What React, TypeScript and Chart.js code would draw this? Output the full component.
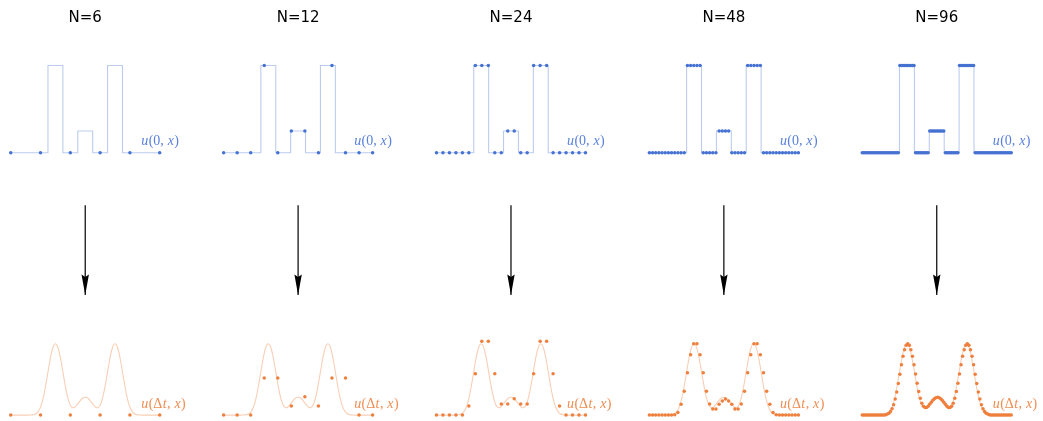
import React, { useEffect, useRef } from "react";
import { Chart, registerables } from "chart.js";

Chart.register(...registerables);

// ---------- data ----------
const titles = ["N=6", "N=12", "N=24", "N=48", "N=96"];

// initial condition u(0,x): fine step profile
const stepX = [0, 0.25, 0.25, 0.35, 0.35, 0.45, 0.45, 0.55, 0.55, 0.65, 0.65, 0.75, 0.75, 1];
const stepY = [0, 0, 1, 1, 0, 0, 0.25, 0.25, 0, 0, 1, 1, 0, 0];

// exact smoothed solution u(dt,x)
const curveX = [
  0, 0.05, 0.1, 0.12,
  0.13, 0.14, 0.15, 0.16, 0.17, 0.18, 0.19, 0.2, 0.21, 0.22, 0.23, 0.24, 0.25, 0.26, 0.27, 0.28, 0.29,
  0.3, 0.31, 0.32, 0.33, 0.34, 0.35, 0.36, 0.37, 0.38, 0.39, 0.4, 0.41, 0.42, 0.43, 0.44, 0.45, 0.46,
  0.47, 0.48, 0.49, 0.5, 0.51, 0.52, 0.53, 0.54, 0.55, 0.56, 0.57, 0.58, 0.59, 0.6, 0.61, 0.62, 0.63,
  0.64, 0.65, 0.66, 0.67, 0.68, 0.69, 0.7, 0.71, 0.72, 0.73, 0.74, 0.75, 0.76, 0.77, 0.78, 0.79, 0.8,
  0.81, 0.82, 0.83, 0.84, 0.85, 0.86, 0.87,
  0.88, 0.9, 0.95, 1,
];
const curveY = [
  0, 0, 0, 0,
  0.001, 0.002, 0.004, 0.008, 0.016, 0.031, 0.055, 0.091, 0.143, 0.212, 0.296, 0.393, 0.496, 0.597, 0.687, 0.757, 0.802,
  0.818, 0.802, 0.757, 0.687, 0.597, 0.497, 0.395, 0.3, 0.22, 0.157, 0.114, 0.091, 0.084, 0.09, 0.107, 0.128, 0.151,
  0.172, 0.19, 0.201, 0.205, 0.201, 0.19, 0.172, 0.151, 0.128, 0.107, 0.09, 0.084, 0.091, 0.114, 0.157, 0.22, 0.3,
  0.395, 0.497, 0.597, 0.687, 0.757, 0.802, 0.818, 0.802, 0.757, 0.687, 0.597, 0.496, 0.393, 0.296, 0.212, 0.143, 0.091,
  0.055, 0.031, 0.016, 0.008, 0.004, 0.002, 0.001,
  0, 0, 0, 0,
];

// sampled initial values
const initial6 = [0, 0, 0, 0, 0, 0];
const initial12 = [0, 0, 0, 1, 0, 0.25, 0.25, 0, 1, 0, 0, 0];
const initial24 = [0, 0, 0, 0, 0, 0, 1, 1, 1, 0, 0, 0.25, 0.25, 0, 0, 1, 1, 1, 0, 0, 0, 0, 0, 0];
const initial48 = [
  0, 0, 0, 0, 0, 0, 0, 0, 0, 0, 0, 0,
  1, 1, 1, 1, 1,
  0, 0, 0, 0, 0,
  0.25, 0.25, 0.25, 0.25,
  0, 0, 0, 0, 0,
  1, 1, 1, 1, 1,
  0, 0, 0, 0, 0, 0, 0, 0, 0, 0, 0, 0,
];
const initial96 = [
  0, 0, 0, 0, 0, 0, 0, 0, 0, 0, 0, 0, 0, 0, 0, 0, 0, 0, 0, 0, 0, 0, 0, 0,
  1, 1, 1, 1, 1, 1, 1, 1, 1, 1,
  0, 0, 0, 0, 0, 0, 0, 0, 0,
  0.25, 0.25, 0.25, 0.25, 0.25, 0.25, 0.25, 0.25, 0.25, 0.25,
  0, 0, 0, 0, 0, 0, 0, 0, 0,
  1, 1, 1, 1, 1, 1, 1, 1, 1, 1,
  0, 0, 0, 0, 0, 0, 0, 0, 0, 0, 0, 0, 0, 0, 0, 0, 0, 0, 0, 0, 0, 0, 0, 0,
];

// numerical values after one step
const evolved6 = [0, 0, 0, 0, 0, 0];
const evolved12 = [0, 0, 0, 0.426, 0.426, 0.103, 0.21, 0.103, 0.426, 0.426, 0, 0];
const evolved24 = [
  0, 0, 0, 0, 0, 0.103, 0.475, 0.847, 0.847, 0.475, 0.126, 0.126, 0.188, 0.126, 0.126, 0.475, 0.847,
  0.847, 0.475, 0.103, 0, 0, 0, 0,
];
const evolved48 = [
  0, 0, 0, 0, 0, 0, 0, 0,
  0.005, 0.03, 0.123, 0.274, 0.486, 0.691, 0.816, 0.816, 0.691, 0.486, 0.274, 0.126, 0.069, 0.069, 0.123,
  0.16, 0.183, 0.16, 0.123, 0.069, 0.069, 0.126, 0.274, 0.486, 0.691, 0.816, 0.816, 0.691, 0.486, 0.274,
  0.123, 0.03, 0.005,
  0, 0, 0, 0, 0, 0, 0,
];
const evolved96 = [
  0, 0, 0, 0, 0, 0, 0, 0, 0, 0, 0, 0, 0,
  0.001, 0.002, 0.005, 0.011, 0.022, 0.041, 0.072, 0.119, 0.183, 0.265, 0.362, 0.469, 0.576, 0.673, 0.749,
  0.801, 0.818, 0.8, 0.749, 0.673, 0.576, 0.47, 0.365, 0.27, 0.194, 0.137, 0.102, 0.087, 0.088, 0.102,
  0.123, 0.146, 0.169, 0.188, 0.2, 0.205,
  0.2, 0.188, 0.169, 0.146, 0.123, 0.102, 0.088, 0.087, 0.102, 0.137, 0.194, 0.27, 0.365, 0.47, 0.576,
  0.673, 0.749, 0.8, 0.818, 0.801, 0.749, 0.673, 0.576, 0.469, 0.362, 0.265, 0.183, 0.119, 0.072, 0.041,
  0.022, 0.011, 0.005, 0.002, 0.001,
  0, 0, 0, 0, 0, 0, 0, 0, 0, 0, 0, 0,
];

const initialSets = [initial6, initial12, initial24, initial48, initial96];
const evolvedSets = [evolved6, evolved12, evolved24, evolved48, evolved96];

// arrow between rows (in upper-row value units)
const arrowX = [0.5, 0.5];
const arrowY = [-0.6, -1.63];

// ---------- layout / style ----------
const W = 1043;
const H = 421;
const COL0 = 9;
const COL_STEP = 213.6;
const SPAN = 149.5;
const UNIT = 88;
const TOP_BASE = 152.3;
const BOT_BASE = 416.8;

const TITLE_Y = 1.503; // value on top axis for title baseline
const LABEL_X = 0.876;
const LABEL_TOP_Y = 0.09;
const LABEL_BOT_Y = 0.077;

const BLUE = "#4672d2";
const BLUE_LINE = "rgba(70,114,210,0.36)";
const BLUE_TEXT = "#5a80dc";
const ORANGE = "#ef7f3c";
const ORANGE_LINE = "rgba(239,127,60,0.38)";
const ORANGE_TEXT = "#f08d52";

type Seg = [string, "i" | "r"];
const labelTop: Seg[] = [["u", "i"], ["(0, ", "r"], ["x", "i"], [")", "r"]];
const labelBot: Seg[] = [["u", "i"], ["(\u0394", "r"], ["t", "i"], [", ", "r"], ["x", "i"], [")", "r"]];

function drawMath(ctx: CanvasRenderingContext2D, segs: Seg[], x: number, y: number, color: string) {
  ctx.fillStyle = color;
  ctx.textAlign = "left";
  ctx.textBaseline = "alphabetic";
  let cx = x;
  for (const [t, s] of segs) {
    ctx.font = (s === "i" ? "italic " : "") + '14px "Liberation Serif", "DejaVu Serif", serif';
    ctx.fillText(t, cx, y);
    cx += ctx.measureText(t).width + 0.4;
  }
}

const overlay = {
  id: "overlay",
  afterDatasetsDraw(chart: any) {
    const ctx: CanvasRenderingContext2D = chart.ctx;
    const yTop = chart.scales.yTop;
    const yBot = chart.scales.yBot;
    titles.forEach((title, k) => {
      const xs = chart.scales["x" + k];
      ctx.save();
      ctx.fillStyle = "#000";
      ctx.font = '15px "DejaVu Sans", sans-serif';
      ctx.textAlign = "center";
      ctx.textBaseline = "alphabetic";
      ctx.fillText(title, xs.getPixelForValue(0.5), yTop.getPixelForValue(TITLE_Y));
      drawMath(ctx, labelTop, xs.getPixelForValue(LABEL_X), yTop.getPixelForValue(LABEL_TOP_Y), BLUE_TEXT);
      drawMath(ctx, labelBot, xs.getPixelForValue(LABEL_X), yBot.getPixelForValue(LABEL_BOT_Y), ORANGE_TEXT);
      // arrow head
      const ax = xs.getPixelForValue(arrowX[1]);
      const ay = yTop.getPixelForValue(arrowY[1]);
      ctx.fillStyle = "#000";
      ctx.beginPath();
      ctx.moveTo(ax - 3.7, ay - 20.5);
      ctx.lineTo(ax, ay - 18);
      ctx.lineTo(ax + 3.7, ay - 20.5);
      ctx.lineTo(ax, ay);
      ctx.closePath();
      ctx.fill();
      ctx.restore();
    });
  },
};

function pts(xs: number[], ys: number[]) {
  return xs.map((x, i) => ({ x, y: ys[i] }));
}

export default function App() {
  const ref = useRef<HTMLCanvasElement>(null);

  useEffect(() => {
    if (!ref.current) return;
    const datasets: any[] = [];
    const scales: any = {};
    titles.forEach((_, k) => {
      const colX = COL0 + COL_STEP * k;
      scales["x" + k] = {
        type: "linear",
        axis: "x",
        position: "bottom",
        display: false,
        min: -colX / SPAN,
        max: (W - colX) / SPAN,
      };
      const init = initialSets[k];
      const evo = evolvedSets[k];
      const gx = init.map((_, i) => i / (init.length - 1));
      datasets.push({
        data: pts(gx, init),
        xAxisID: "x" + k,
        yAxisID: "yTop",
        showLine: false,
        pointRadius: 1.75,
        pointHoverRadius: 0,
        pointBorderWidth: 0,
        pointBackgroundColor: BLUE,
        pointBorderColor: BLUE,
        order: 0,
      });
      datasets.push({
        data: pts(gx, evo),
        xAxisID: "x" + k,
        yAxisID: "yBot",
        showLine: false,
        pointRadius: 1.75,
        pointHoverRadius: 0,
        pointBorderWidth: 0,
        pointBackgroundColor: ORANGE,
        pointBorderColor: ORANGE,
        order: 0,
      });
      datasets.push({
        data: pts(stepX, stepY),
        xAxisID: "x" + k,
        yAxisID: "yTop",
        showLine: true,
        borderColor: BLUE_LINE,
        borderWidth: 1.1,
        pointRadius: 0,
        tension: 0,
        fill: false,
        order: 1,
      });
      datasets.push({
        data: pts(curveX, curveY),
        xAxisID: "x" + k,
        yAxisID: "yBot",
        showLine: true,
        borderColor: ORANGE_LINE,
        borderWidth: 1.1,
        pointRadius: 0,
        cubicInterpolationMode: "monotone",
        fill: false,
        order: 1,
      });
      datasets.push({
        data: pts(arrowX, arrowY),
        xAxisID: "x" + k,
        yAxisID: "yTop",
        showLine: true,
        borderColor: "#000",
        borderWidth: 1.2,
        pointRadius: 0,
        fill: false,
        order: 1,
      });
    });
    scales.yTop = {
      type: "linear",
      axis: "y",
      position: "left",
      display: false,
      max: TOP_BASE / UNIT,
      min: -(H - TOP_BASE) / UNIT,
    };
    scales.yBot = {
      type: "linear",
      axis: "y",
      position: "left",
      display: false,
      max: BOT_BASE / UNIT,
      min: -(H - BOT_BASE) / UNIT,
    };

    const chart = new Chart(ref.current, {
      type: "scatter",
      data: { datasets },
      options: {
        animation: false,
        responsive: false,
        devicePixelRatio: 1,
        events: [],
        layout: { padding: 0 },
        plugins: {
          legend: { display: false },
          tooltip: { enabled: false },
          title: { display: false },
        },
        scales,
      } as any,
      plugins: [overlay],
    });
    return () => chart.destroy();
  }, []);

  return (
    <div style={{ position: "fixed", left: 0, top: 0, width: W, height: H, background: "#fff" }}>
      <canvas ref={ref} width={W} height={H} style={{ display: "block", width: W, height: H }} />
    </div>
  );
}
